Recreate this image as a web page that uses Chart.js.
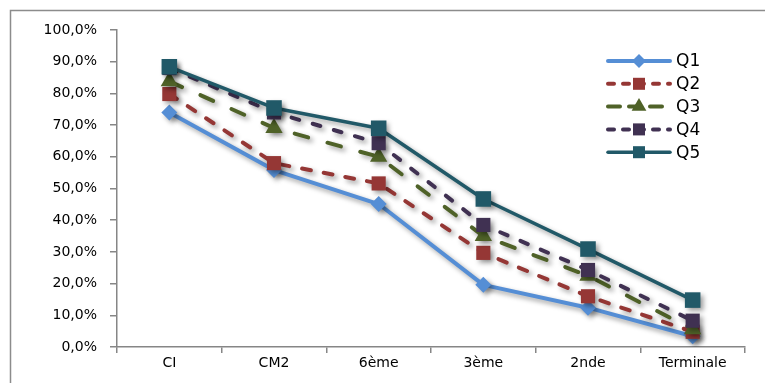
<!DOCTYPE html>
<html>
<head>
<meta charset="utf-8">
<script src="https://cdn.jsdelivr.net/npm/chart.js@4"></script>
<style>
  html, body { margin: 0; padding: 0; background: #fff; }
  #wrap { position: relative; width: 765px; height: 383px; }
</style>
</head>
<body>
<div id="wrap"><canvas id="c" width="765" height="383"></canvas></div>
<script>
// Niveaux scolaires
const categories = ['CI', 'CM2', '6ème', '3ème', '2nde', 'Terminale'];

// Taux par quintile (%)
const q1 = [74.0, 55.8, 45.1, 19.6, 12.4, 3.4];
const q2 = [79.8, 58.0, 51.6, 29.7, 16.0, 4.8];
const q3 = [83.8, 69.1, 60.0, 35.0, 22.5, 5.6];
const q4 = [88.0, 74.0, 64.3, 38.5, 24.3, 8.3];
const q5 = [88.4, 75.4, 69.0, 46.7, 30.9, 14.8];

const seriesNames = ['Q1', 'Q2', 'Q3', 'Q4', 'Q5'];
const yTicks = [0, 10, 20, 30, 40, 50, 60, 70, 80, 90, 100];

const FONT = '"DejaVu Sans", Verdana, sans-serif';

const styles = [
  { color: '#558ED5', dash: [],       legendDash: [],      width: 4,   point: 'rectRot',  radius: 8 },
  { color: '#953735', dash: [9, 13],  legendDash: [6, 9],  width: 4,   point: 'rect',     radius: 10 },
  { color: '#4F6228', dash: [14, 20], legendDash: [12, 9], width: 4,   point: 'triangle', radius: 10 },
  { color: '#403152', dash: [8, 14],  legendDash: [6, 9],  width: 4,   point: 'rect',     radius: 10 },
  { color: '#215968', dash: [],       legendDash: [],      width: 3.5, point: 'rect',     radius: 11 }
];

const values = [q1, q2, q3, q4, q5];

const datasets = values.map((v, i) => ({
  label: seriesNames[i],
  data: v,
  borderColor: styles[i].color,
  backgroundColor: styles[i].color,
  borderWidth: styles[i].width,
  borderDash: styles[i].dash,
  borderCapStyle: 'round',
  borderJoinStyle: 'round',
  pointStyle: styles[i].point,
  pointRadius: styles[i].radius,
  pointHoverRadius: styles[i].radius,
  pointBorderWidth: 0,
  pointBackgroundColor: styles[i].color,
  tension: 0,
  fill: false,
  order: 4 - i
}));

// Drop shadow under the series lines and markers
const shadowPlugin = {
  id: 'shadow',
  beforeDatasetsDraw(chart) {
    const ctx = chart.ctx;
    ctx.save();
    ctx.shadowColor = 'rgba(0,0,0,0.38)';
    ctx.shadowBlur = 5;
    ctx.shadowOffsetX = 3;
    ctx.shadowOffsetY = 3;
  },
  afterDatasetsDraw(chart) {
    chart.ctx.restore();
  }
};

// Outer frame of the chart
const framePlugin = {
  id: 'frame',
  beforeDraw(chart) {
    const ctx = chart.ctx;
    ctx.save();
    ctx.strokeStyle = '#8c8c8c';
    ctx.lineWidth = 1.5;
    ctx.beginPath();
    ctx.moveTo(10.5, chart.height);
    ctx.lineTo(10.5, 10.5);
    ctx.lineTo(chart.width, 10.5);
    ctx.stroke();
    ctx.restore();
  }
};

// Legend with line sample + marker, like the series
const legendPlugin = {
  id: 'lineLegend',
  afterDraw(chart) {
    const ctx = chart.ctx;
    const x0 = 608, x1 = 670, top = 61, step = 22.8;
    chart.data.datasets.forEach((ds, i) => {
      const y = top + i * step;
      const st = styles[i];
      ctx.save();
      ctx.strokeStyle = st.color;
      ctx.lineWidth = st.width;
      ctx.lineCap = 'round';
      ctx.setLineDash(st.legendDash);
      ctx.beginPath();
      ctx.moveTo(x0, y);
      ctx.lineTo(x1, y);
      ctx.stroke();
      ctx.setLineDash([]);
      ctx.fillStyle = st.color;
      Chart.helpers.drawPoint(ctx, {
        pointStyle: st.point,
        radius: st.point === 'rectRot' ? 7 : 8.5,
        rotation: 0,
        borderWidth: 0
      }, (x0 + x1) / 2, y);
      ctx.fillStyle = '#000';
      ctx.font = '17px ' + FONT;
      ctx.textBaseline = 'middle';
      ctx.textAlign = 'left';
      ctx.fillText(ds.label, 676, y + 1);
      ctx.restore();
    });
  }
};

new Chart(document.getElementById('c'), {
  type: 'line',
  data: { labels: categories, datasets },
  options: {
    responsive: false,
    animation: false,
    devicePixelRatio: 1,
    layout: { padding: { top: 30, right: 20, left: 0, bottom: 0 } },
    plugins: {
      legend: { display: false },
      tooltip: { enabled: false }
    },
    scales: {
      x: {
        offset: true,
        grid: {
          offset: true,
          drawOnChartArea: false,
          drawTicks: true,
          tickLength: 6,
          color: '#868686',
          lineWidth: 1.5
        },
        border: { display: true, color: '#868686', width: 1.5 },
        ticks: {
          color: '#000',
          font: { family: FONT, size: 14 },
          padding: 2,
          maxRotation: 0,
          autoSkip: false
        },
        afterFit(scale) { scale.height = 36; }
      },
      y: {
        min: 0,
        max: 100,
        afterBuildTicks(scale) {
          scale.ticks = yTicks.map(v => ({ value: v }));
        },
        grid: {
          drawOnChartArea: false,
          drawTicks: true,
          tickLength: 7,
          color: '#868686',
          lineWidth: 1.5
        },
        border: { display: true, color: '#868686', width: 1.5 },
        ticks: {
          color: '#000',
          font: { family: FONT, size: 14 },
          padding: 13,
          callback: v => v.toFixed(1).replace('.', ',') + '%'
        },
        afterFit(scale) { scale.width = 117; }
      }
    }
  },
  plugins: [framePlugin, shadowPlugin, legendPlugin]
});
</script>
</body>
</html>
